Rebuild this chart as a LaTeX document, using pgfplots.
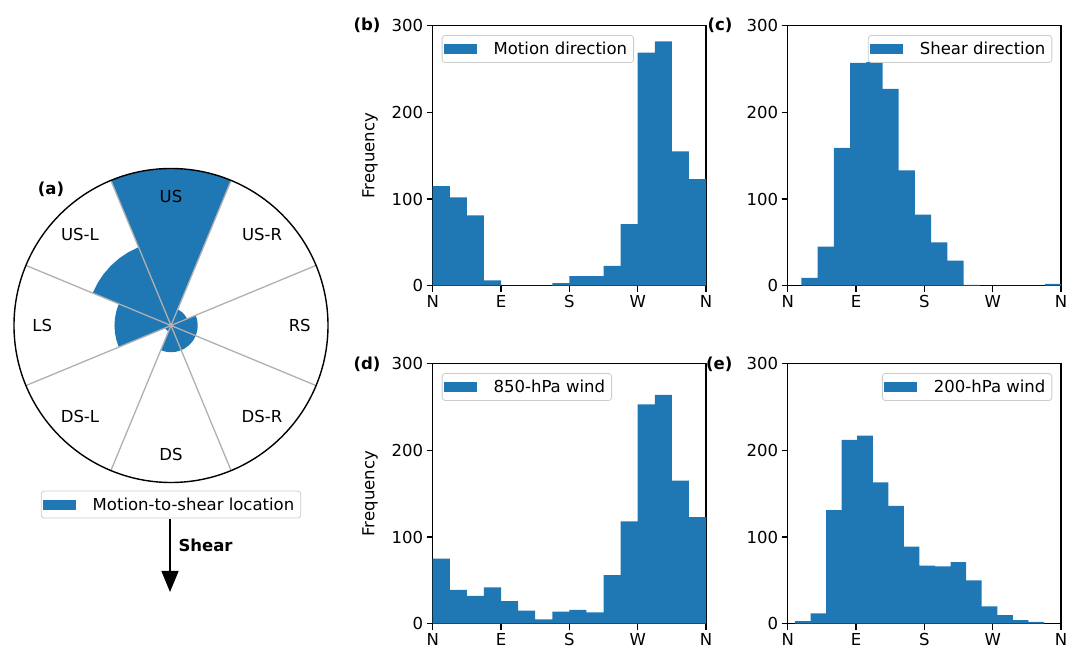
\documentclass[border=0pt]{standalone}
\usepackage{fontspec}
\setmainfont{DejaVu Sans}
\usepackage{pgfplots}
\pgfplotsset{compat=1.18}
\usepgfplotslibrary{polar}
\usetikzlibrary{arrows.meta}

\definecolor{mplblue}{HTML}{1F77B4}
\definecolor{gridgray}{HTML}{B0B0B0}
\definecolor{legedge}{HTML}{CCCCCC}
\newcommand\fsz{\fontsize{16.5}{19.8}\selectfont}

\pgfplotsset{
  mpllegend/.style={
    legend cell align=left,
    legend image code/.code={\path[draw=none, fill=none] (-2pt,0pt) -- (43pt,0pt);
      \fill[##1, sharp corners] (0pt,-5pt) rectangle (33pt,5pt);},
    legend style={draw=legedge, line width=0.8pt, rounded corners=3pt, font=\fsz,
      inner xsep=0pt, inner ysep=2pt, nodes={inner xsep=6.5pt, inner ysep=4.5pt}},
  },
  histo/.style={
    scale only axis, width=273.3pt, height=260pt,
    xmin=0, xmax=360, ymin=0, ymax=300,
    xtick={0,90,180,270,360}, xticklabels={N,E,S,W,N},
    ytick={0,100,200,300},
    tick align=outside, tick pos=left, major tick length=6pt,
    axis line style={line width=1.1pt},
    major tick style={black, line width=1.1pt},
    tick label style={font=\fsz}, label style={font=\fsz},
    /pgf/number format/assume math mode=true,
    ylabel style={at={(axis description cs:-0.229,0.5)}, anchor=center},
    mpllegend,
  },
  histbar/.style={ybar interval, fill=mplblue, draw=none},
}

\begin{document}
\begin{tikzpicture}[font=\fsz]
\useasboundingbox (0,0) rectangle (1077pt,655pt);

% (a) motion-to-shear location rose
\begin{polaraxis}[
  at={(171pt,329.5pt)}, anchor=center,
  scale only axis, width=314pt, height=314pt,
  xmin=0, xmax=360, ymin=0, ymax=1,
  xtick={22.5,67.5,...,337.5}, xticklabels={},
  ytick=\empty,
  major tick length=0pt,
  xmajorgrids=true, ymajorgrids=false,
  major grid style={gridgray, line width=1.3pt},
  axis line style={line width=1.4pt, black},
  y axis line style={draw=none},
  axis on top,
  mpllegend,
  legend style={at={(0.5,-0.026)}, anchor=north},
]
% US
\addplot[fill=mplblue, draw=none] coordinates {(0,0) (67.5,1) (75,1) (82.5,1) (90,1) (97.5,1) (105,1) (112.5,1) (0,0)};
\addlegendentry{Motion-to-shear location}
% US-L
\addplot[fill=mplblue, draw=none, forget plot] coordinates {(0,0) (112.5,0.54) (120,0.54) (127.5,0.54) (135,0.54) (142.5,0.54) (150,0.54) (157.5,0.54) (0,0)};
% LS
\addplot[fill=mplblue, draw=none, forget plot] coordinates {(0,0) (157.5,0.36) (165,0.36) (172.5,0.36) (180,0.36) (187.5,0.36) (195,0.36) (202.5,0.36) (0,0)};
% DS-L
\addplot[fill=mplblue, draw=none, forget plot] coordinates {(0,0) (202.5,0.04) (210,0.04) (217.5,0.04) (225,0.04) (232.5,0.04) (240,0.04) (247.5,0.04) (0,0)};
% DS
\addplot[fill=mplblue, draw=none, forget plot] coordinates {(0,0) (247.5,0.17) (255,0.17) (262.5,0.17) (270,0.17) (277.5,0.17) (285,0.17) (292.5,0.17) (0,0)};
% DS-R
\addplot[fill=mplblue, draw=none, forget plot] coordinates {(0,0) (292.5,0.17) (300,0.17) (307.5,0.17) (315,0.17) (322.5,0.17) (330,0.17) (337.5,0.17) (0,0)};
% RS
\addplot[fill=mplblue, draw=none, forget plot] coordinates {(0,0) (337.5,0.17) (345,0.17) (352.5,0.17) (0,0.17) (7.5,0.17) (15,0.17) (22.5,0.17) (0,0)};
% US-R
\addplot[fill=mplblue, draw=none, forget plot] coordinates {(0,0) (22.5,0.11) (30,0.11) (37.5,0.11) (45,0.11) (52.5,0.11) (60,0.11) (67.5,0.11) (0,0)};

\node at (axis cs:90,0.82) {US};
\node at (axis cs:135,0.82) {US-L};
\node at (axis cs:180,0.82) {LS};
\node at (axis cs:225,0.82) {DS-L};
\node at (axis cs:270,0.82) {DS};
\node at (axis cs:315,0.82) {DS-R};
\node at (axis cs:0,0.82) {RS};
\node at (axis cs:45,0.82) {US-R};
\end{polaraxis}
\node at (51pt,466pt) {\bfseries (a)};
\draw[line width=1.5pt, -{Triangle[width=17pt,length=21pt]}] (170pt,136pt) -- (170pt,63pt);
\node[anchor=west] at (175pt,110pt) {\bfseries Shear};

% (b) motion direction
\begin{axis}[histo, at={(432.7pt,369.3pt)}, anchor=south west,
  ylabel={Frequency},
  legend style={at={(0.033,0.964)}, anchor=north west}]
\addplot[histbar] coordinates {(0,115) (22.5,102) (45,81) (67.5,6) (90,0) (112.5,0) (135,0) (157.5,3)
  (180,11) (202.5,11) (225,23) (247.5,71) (270,269) (292.5,282) (315,155) (337.5,123) (360,123)};
\addlegendentry{Motion direction}
\end{axis}
\node[anchor=east] at (384pt,629.3pt) {\bfseries (b)};

% (c) shear direction
\begin{axis}[histo, at={(787.7pt,369.3pt)}, anchor=south west,
  legend style={at={(0.968,0.964)}, anchor=north east}]
\addplot[histbar] coordinates {(18,9) (39.375,45) (60.75,159) (82.125,257) (103.5,258) (124.875,227)
  (146.25,133) (167.625,82) (189,50) (210.375,29) (231.75,1) (253.125,0) (274.5,0) (295.875,0)
  (317.25,0) (338.625,2) (360,2)};
\addlegendentry{Shear direction}
\end{axis}
\node[anchor=east] at (736pt,629.3pt) {\bfseries (c)};

% (d) 850-hPa wind
\begin{axis}[histo, at={(432.7pt,31.3pt)}, anchor=south west,
  ylabel={Frequency},
  legend style={at={(0.033,0.964)}, anchor=north west}]
\addplot[histbar] coordinates {(0,75) (22.5,39) (45,32) (67.5,42) (90,26) (112.5,15) (135,5) (157.5,14)
  (180,16) (202.5,13) (225,56) (247.5,118) (270,253) (292.5,264) (315,165) (337.5,123) (360,123)};
\addlegendentry{850-hPa wind}
\end{axis}
\node[anchor=east] at (384pt,291pt) {\bfseries (d)};

% (e) 200-hPa wind
\begin{axis}[histo, at={(787.7pt,31.3pt)}, anchor=south west,
  legend style={at={(0.968,0.964)}, anchor=north east}]
\addplot[histbar] coordinates {(9.6,3) (30.1,12) (50.6,131) (71.1,212) (91.6,217) (112.1,163)
  (132.6,136) (153.1,89) (173.6,67) (194.1,66) (214.6,71) (235.1,50) (255.6,20) (276.1,10)
  (296.6,4) (317.1,2) (337.6,2)};
\addlegendentry{200-hPa wind}
\end{axis}
\node[anchor=east] at (736pt,291pt) {\bfseries (e)};
\end{tikzpicture}
\end{document}
